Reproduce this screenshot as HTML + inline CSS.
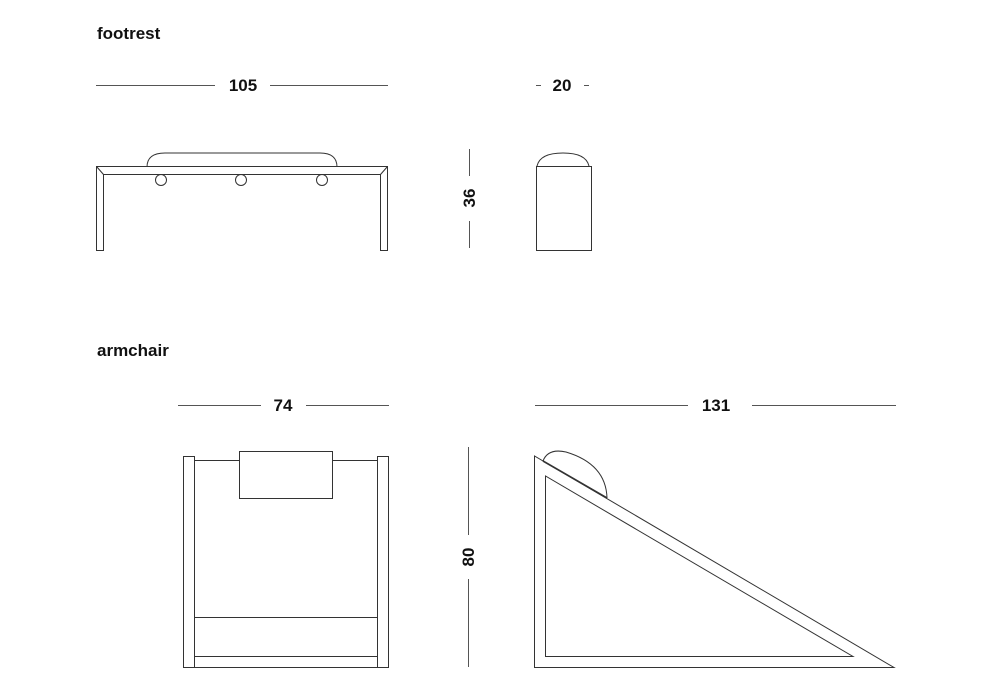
<!DOCTYPE html>
<html><head><style>
html,body{margin:0;padding:0;background:#fff;width:1000px;height:700px;overflow:hidden}
svg{display:block}
text{font-family:"Liberation Sans",sans-serif;fill:#111}
</style></head><body>
<svg width="1000" height="700" viewBox="0 0 1000 700">
<g stroke="#555" stroke-width="1" fill="none">
<!-- dimension lines -->
<line x1="96" y1="85.5" x2="215" y2="85.5"/><line x1="270" y1="85.5" x2="388" y2="85.5"/>
<line x1="536" y1="85.5" x2="541" y2="85.5"/><line x1="584" y1="85.5" x2="589" y2="85.5"/>
<line x1="469.5" y1="149" x2="469.5" y2="176"/><line x1="469.5" y1="221" x2="469.5" y2="248"/>
<line x1="178" y1="405.5" x2="261" y2="405.5"/><line x1="306" y1="405.5" x2="389" y2="405.5"/>
<line x1="535" y1="405.5" x2="688" y2="405.5"/><line x1="752" y1="405.5" x2="896" y2="405.5"/>
<line x1="468.5" y1="447" x2="468.5" y2="535"/><line x1="468.5" y1="579" x2="468.5" y2="667"/>
</g>
<g stroke="#333" stroke-width="1" fill="none">
<!-- footrest front -->
<path d="M147 167 Q147 153 165 153 L320 153 Q337 153 337 167"/>
<path d="M96.5 166.5 H387.5 V250.5 H380.5 V174.5 H103.5 V250.5 H96.5 Z"/>
<line x1="96.5" y1="166.5" x2="103.5" y2="174.5"/><line x1="387.5" y1="166.5" x2="380.5" y2="174.5"/>
<circle cx="161" cy="180" r="5.5"/><circle cx="241" cy="180" r="5.5"/><circle cx="322" cy="180" r="5.5"/>
<!-- footrest side -->
<rect x="536.5" y="166.5" width="55" height="84"/>
<path d="M537 166 Q540 153 563 153 Q586 153 589 166"/>
<!-- armchair front -->
<rect x="183.5" y="456.5" width="11" height="211"/>
<rect x="377.5" y="456.5" width="11" height="211"/>
<line x1="194.5" y1="460.5" x2="377.5" y2="460.5"/>
<rect x="239.5" y="451.5" width="93" height="47" fill="#fff"/>
<line x1="194.5" y1="617.5" x2="377.5" y2="617.5"/>
<line x1="194.5" y1="656.5" x2="377.5" y2="656.5"/>
<line x1="194.5" y1="667.5" x2="377.5" y2="667.5"/>
<!-- armchair side -->
<polygon points="534.5,456 534.5,667.5 894,667.5"/>
<polygon points="545.5,476 545.5,656.5 853,656.5"/>
<path d="M543 461 Q548 448 566 452 Q606 464 607 498"/>
<line x1="543" y1="461" x2="607" y2="498" stroke-width="1.6"/>
</g>
<text x="97" y="39" font-size="17" font-weight="bold">footrest</text>
<text x="97" y="356" font-size="17" font-weight="bold">armchair</text>
<g font-size="17" text-anchor="middle" font-weight="bold">
<text x="243" y="91">105</text>
<text x="562" y="91">20</text>
<text x="283" y="411">74</text>
<text x="716" y="411">131</text>
<text transform="translate(475,198) rotate(-90)">36</text>
<text transform="translate(474,557) rotate(-90)">80</text>
</g>
</svg>
</body></html>
